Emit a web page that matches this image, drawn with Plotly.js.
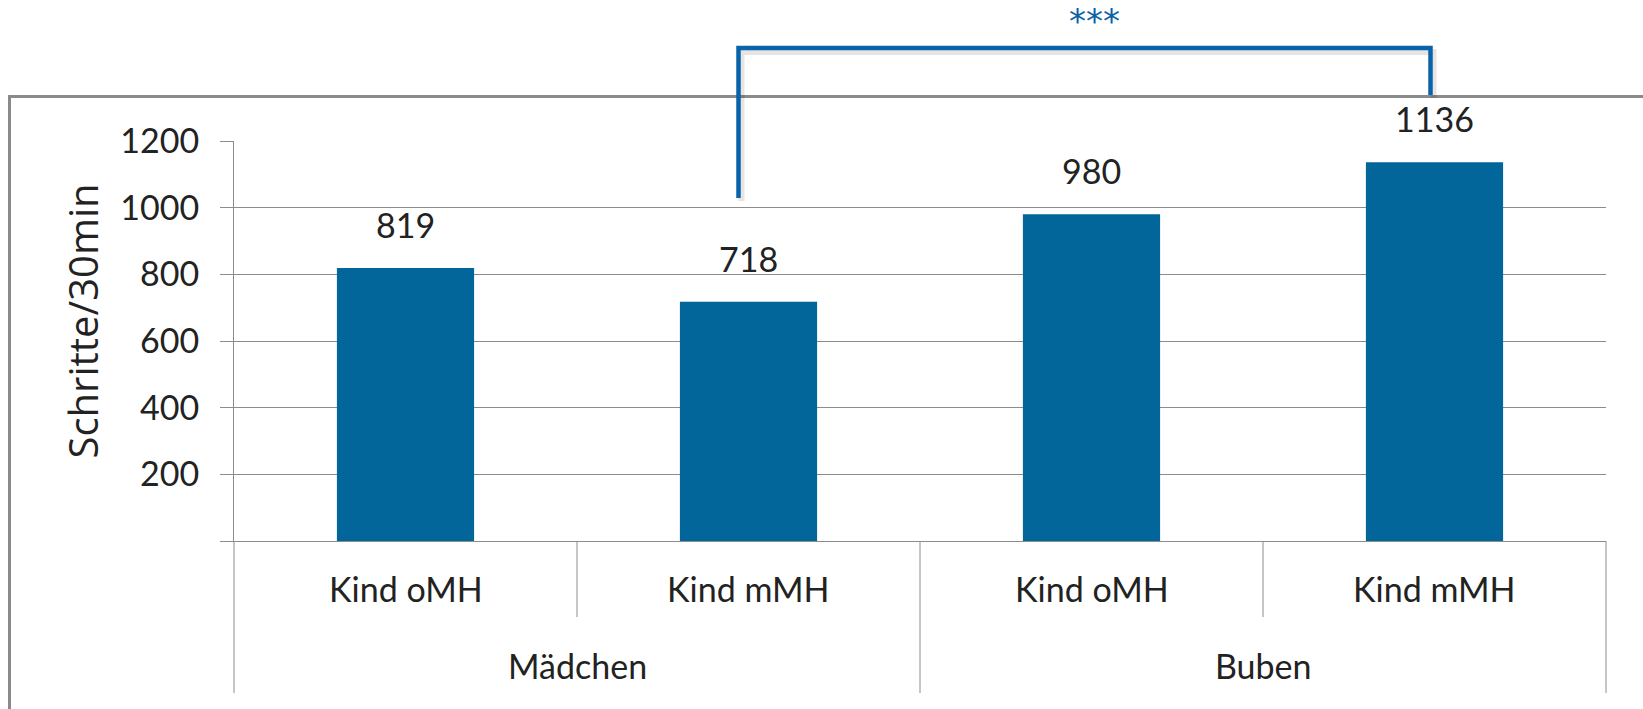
<!DOCTYPE html>
<html><head><meta charset="utf-8">
<script src="https://cdn.plot.ly/plotly-3.0.1.min.js"></script>
<style>html,body{margin:0;padding:0;background:#fff;} #chart{width:1643px;height:709px;}</style>
</head><body><div id="chart"></div>
<script>
const groups = ["Mädchen", "Mädchen", "Buben", "Buben"];
const subgroups = ["Kind oMH", "Kind mMH", "Kind oMH", "Kind mMH"];
const steps = [819, 718, 980, 1136];
const yTickVals = [0, 200, 400, 600, 800, 1000, 1200];
const yTickText = ["", "200", "400", "600", "800", "1000", "1200"];
const yTitle = "Schritte/30min";
const sigLabel = "***";
const sigPair = [1, 3];

const W = 1643, H = 709;
const M = {l: 234, r: 37, t: 141, b: 168};
const PW = W - M.l - M.r, PH = H - M.t - M.b;
const px2x = p => (p - M.l) / PW;
const py2y = p => (H - M.b - p) / PH;

const barColor = '#03669B';
const sigColor = '#0863A9';
const gridColor = '#8c8c8c';
const textColor = '#222';
const n = steps.length;
const catCenter = i => (i + 0.5) / n;

const trace = {
  type: 'bar',
  x: [groups, subgroups],
  y: steps,
  marker: {color: barColor},
  hoverinfo: 'none'
};

const lblFont = {family: 'Lato', size: 34, color: textColor};
const annotations = steps.map((v, i) => ({
  xref: 'paper', yref: 'y', x: catCenter(i), y: v,
  text: String(v), showarrow: false, xanchor: 'center', yanchor: 'bottom',
  yshift: 21, font: lblFont
}));
// first-level category labels
subgroups.forEach((s, i) => annotations.push({
  xref: 'paper', yref: 'paper', x: catCenter(i), y: py2y(611),
  text: s, showarrow: false, xanchor: 'center', yanchor: 'bottom', font: lblFont
}));
// second-level group labels
const groupNames = [...new Set(groups)];
groupNames.forEach(g => {
  const idx = groups.map((v, i) => v === g ? i : -1).filter(i => i >= 0);
  const xc = (idx[0] + idx[idx.length - 1] + 1) / 2 / n;
  annotations.push({
    xref: 'paper', yref: 'paper', x: xc, y: py2y(688),
    text: g, showarrow: false, xanchor: 'center', yanchor: 'bottom', font: lblFont
  });
});
// y axis title
annotations.push({
  xref: 'paper', yref: 'paper', x: px2x(82), y: py2y(321.5),
  text: yTitle, textangle: -90, showarrow: false, xanchor: 'center', yanchor: 'middle',
  font: {family: 'Open Sans', size: 40, color: textColor}
});

const xL = catCenter(sigPair[0]) - 10 / PW, xR = catCenter(sigPair[1]) - 4 / PW;
// significance stars
annotations.push({
  xref: 'paper', yref: 'paper',
  x: (catCenter(sigPair[0]) + catCenter(sigPair[1])) / 2 + 3 / PW, y: py2y(43),
  text: sigLabel, showarrow: false, xanchor: 'center', yanchor: 'bottom',
  font: {family: 'DejaVu Sans', size: 34, color: sigColor}
});

const yTop = py2y(48), yBL = py2y(198), yBR = py2y(95);
const vline = (x, yBottomPx) => ({type: 'line', xref: 'paper', yref: 'paper',
  x0: x, x1: x, y0: 0, y1: py2y(yBottomPx), line: {color: gridColor, width: 1}});
const shapes = [
  // outer chart frame (left + top)
  {type: 'path', xref: 'paper', yref: 'paper',
   path: `M ${px2x(9.5)} ${py2y(H + 10)} L ${px2x(9.5)} ${py2y(96.5)} L ${px2x(W + 10)} ${py2y(96.5)}`,
   line: {color: '#8a8a8a', width: 3}},
  // category separators (inner short, group boundaries long)
  ...[1, 3].map(k => vline(k / n, 617)),
  ...[0, 2, 4].map(k => vline(k / n, 693)),
  // bracket shadow
  {type: 'path', xref: 'paper', yref: 'paper',
   path: `M ${xL + 3/PW} ${yBL - 3/PH} L ${xL + 3/PW} ${yTop - 4/PH} L ${xR + 3/PW} ${yTop - 4/PH} L ${xR + 3/PW} ${yBR - 3/PH}`,
   line: {color: 'rgba(0,0,0,0.10)', width: 6}},
  // bracket
  {type: 'path', xref: 'paper', yref: 'paper',
   path: `M ${xL} ${yBL} L ${xL} ${yTop} L ${xR} ${yTop} L ${xR} ${yBR}`,
   line: {color: sigColor, width: 4.5}}
];

const layout = {
  width: W, height: H,
  margin: M,
  paper_bgcolor: '#fff', plot_bgcolor: '#fff',
  showlegend: false,
  bargap: 0.6,
  font: {family: 'Lato', size: 34, color: textColor},
  xaxis: {
    type: 'multicategory',
    showline: true, linecolor: gridColor, linewidth: 1,
    showgrid: false, ticks: '', showticklabels: false, showdividers: false
  },
  yaxis: {
    range: [0, 1200],
    tickvals: yTickVals, ticktext: yTickText,
    ticks: 'outside', ticklen: 13, tickcolor: gridColor, tickwidth: 1,
    showline: true, linecolor: gridColor, linewidth: 1,
    showgrid: true, gridcolor: gridColor, gridwidth: 1,
    zeroline: false,
    ticklabelstandoff: 14,
    tickfont: lblFont
  },
  shapes: shapes,
  annotations: annotations
};

Plotly.newPlot('chart', [trace], layout, {staticPlot: true, displayModeBar: false});
</script>
</body></html>
